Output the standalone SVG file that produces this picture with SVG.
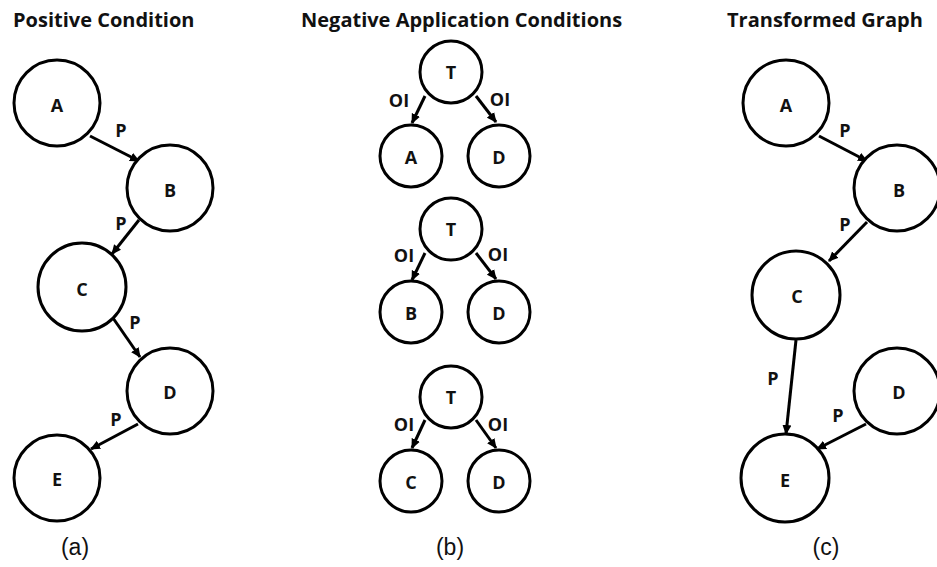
<svg xmlns="http://www.w3.org/2000/svg" width="937" height="567" viewBox="0 0 937 567">
  <style>
    .node circle { fill: #ffffff; stroke: #000000; stroke-width: 3; }
    .node text { font-family: "Open Sans", "Liberation Sans", sans-serif; font-weight: bold; font-size: 18px; text-anchor: middle; dominant-baseline: central; fill: #111111; }
    .title { font-family: "Open Sans", "Liberation Sans", sans-serif; font-weight: bold; font-size: 20px; fill: #111111; }
    .edge { stroke: #000000; stroke-width: 3; fill: none; marker-end: url(#arrow); }
    .elabel { font-family: "Open Sans", "Liberation Sans", sans-serif; font-weight: bold; font-size: 18px; text-anchor: middle; dominant-baseline: central; fill: #111111; }
    .caption { font-family: "Liberation Sans", Arial, sans-serif; font-size: 23px; text-anchor: middle; fill: #111111; }
  </style>
  <defs>
    <marker id="arrow" viewBox="0 0 10 10" refX="9" refY="5" markerWidth="10" markerHeight="10" markerUnits="userSpaceOnUse" orient="auto">
      <path d="M0,0.5 L10,5 L0,9.5 z" fill="#000000"/>
    </marker>
  </defs>
  <rect width="937" height="567" fill="#ffffff"/>

  <!-- titles -->
  <text class="title" x="13" y="27">Positive Condition</text>
  <text class="title" x="301" y="27">Negative Application Conditions</text>
  <text class="title" x="727" y="27">Transformed Graph</text>

  <!-- connectors -->
  <g id="connectors">
    <!-- (a) chain A-B-C-D-E -->
    <line class="edge" x1="90" y1="136" x2="139" y2="161"/>
    <line class="edge" x1="139" y1="220" x2="112" y2="254"/>
    <line class="edge" x1="113" y1="318" x2="140" y2="357"/>
    <line class="edge" x1="138" y1="424" x2="91" y2="449"/>
    <!-- (b) T -> pairs -->
    <line class="edge" x1="425" y1="96" x2="412" y2="123"/>
    <line class="edge" x1="476" y1="96" x2="496" y2="122"/>
    <line class="edge" x1="425" y1="253" x2="412" y2="280"/>
    <line class="edge" x1="476" y1="253" x2="496" y2="279"/>
    <line class="edge" x1="425" y1="420" x2="412" y2="448"/>
    <line class="edge" x1="476" y1="420" x2="496" y2="448"/>
    <!-- (c) transformed -->
    <line class="edge" x1="819" y1="136" x2="867" y2="161"/>
    <line class="edge" x1="867" y1="222" x2="829" y2="261"/>
    <line class="edge" x1="796" y1="340" x2="786" y2="434"/>
    <line class="edge" x1="866" y1="424" x2="817" y2="449"/>
  </g>

  <!-- edge labels -->
  <g id="edge-labels">
    <text class="elabel" x="121" y="130">P</text>
    <text class="elabel" x="121" y="223">P</text>
    <text class="elabel" x="135" y="322">P</text>
    <text class="elabel" x="116" y="419">P</text>

    <text class="elabel" x="399" y="100">OI</text>
    <text class="elabel" x="500" y="99">OI</text>
    <text class="elabel" x="404" y="255">OI</text>
    <text class="elabel" x="498" y="254">OI</text>
    <text class="elabel" x="404" y="424">OI</text>
    <text class="elabel" x="498" y="424">OI</text>

    <text class="elabel" x="845" y="130">P</text>
    <text class="elabel" x="845" y="224">P</text>
    <text class="elabel" x="773" y="378">P</text>
    <text class="elabel" x="838" y="415">P</text>
  </g>

  <!-- (a) positive condition -->
  <g id="a-A" class="node"><circle cx="57" cy="103" r="43"/><text x="57" y="105">A</text></g>
  <g id="a-B" class="node"><circle cx="170" cy="188" r="43"/><text x="170" y="190">B</text></g>
  <g id="a-C" class="node"><circle cx="82" cy="287" r="44"/><text x="82" y="289">C</text></g>
  <g id="a-D" class="node"><circle cx="170" cy="391" r="43"/><text x="170" y="392">D</text></g>
  <g id="a-E" class="node"><circle cx="57" cy="478" r="43"/><text x="57" y="479">E</text></g>

  <!-- (b) negative application conditions -->
  <g id="b1-T" class="node"><circle cx="451" cy="72" r="31"/><text x="451" y="72">T</text></g>
  <g id="b1-A" class="node"><circle cx="411" cy="156" r="31"/><text x="411" y="157">A</text></g>
  <g id="b1-D" class="node"><circle cx="499" cy="156" r="31"/><text x="499" y="157">D</text></g>

  <g id="b2-T" class="node"><circle cx="451" cy="229" r="31"/><text x="451" y="229">T</text></g>
  <g id="b2-B" class="node"><circle cx="411" cy="312" r="31"/><text x="411" y="313">B</text></g>
  <g id="b2-D" class="node"><circle cx="499" cy="312" r="31"/><text x="499" y="313">D</text></g>

  <g id="b3-T" class="node"><circle cx="451" cy="397" r="31"/><text x="451" y="397">T</text></g>
  <g id="b3-C" class="node"><circle cx="411" cy="481" r="31"/><text x="411" y="482">C</text></g>
  <g id="b3-D" class="node"><circle cx="499" cy="481" r="31"/><text x="499" y="482">D</text></g>

  <!-- (c) transformed graph -->
  <g id="c-A" class="node"><circle cx="786" cy="103" r="43"/><text x="786" y="105">A</text></g>
  <g id="c-B" class="node"><circle cx="897" cy="188" r="43"/><text x="899" y="190">B</text></g>
  <g id="c-C" class="node"><circle cx="796" cy="295" r="44"/><text x="797" y="296">C</text></g>
  <g id="c-D" class="node"><circle cx="897" cy="391" r="43"/><text x="899" y="392">D</text></g>
  <g id="c-E" class="node"><circle cx="785" cy="478" r="44"/><text x="785" y="480">E</text></g>

  <!-- captions -->
  <text class="caption" x="75" y="555">(a)</text>
  <text class="caption" x="450" y="555">(b)</text>
  <text class="caption" x="826" y="555">(c)</text>
</svg>
